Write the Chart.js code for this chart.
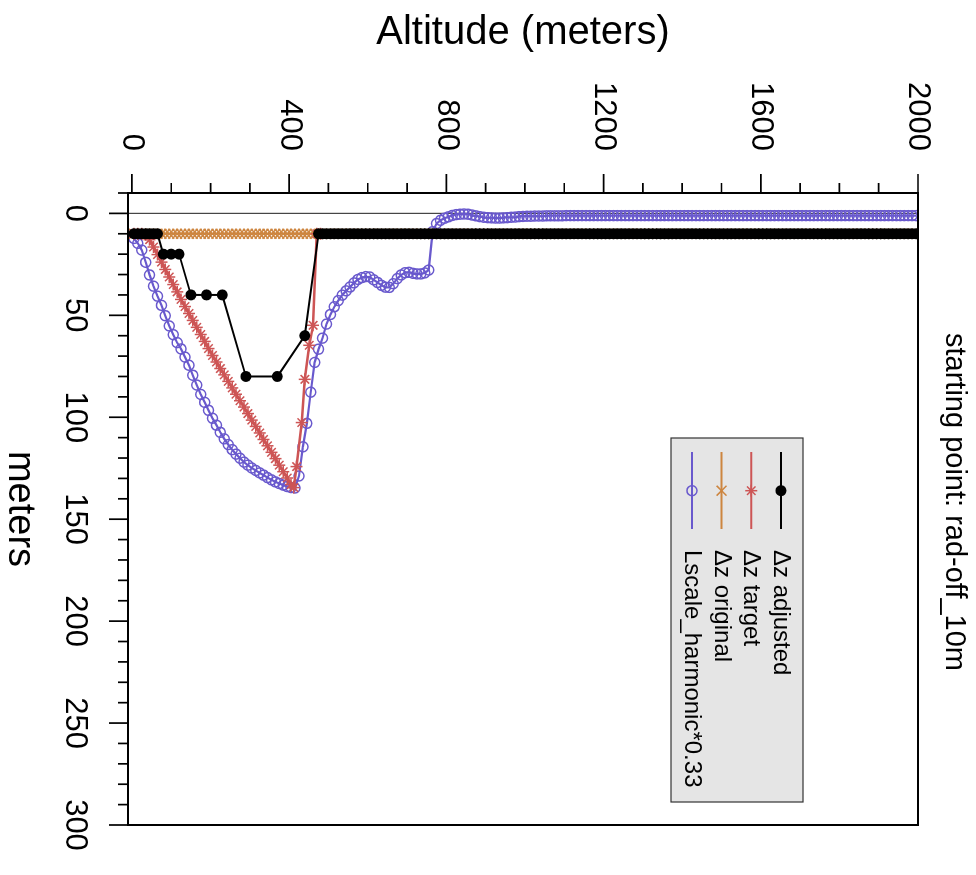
<!DOCTYPE html>
<html>
<head>
<meta charset="utf-8">
<title>rad-off_10m</title>
<script src="https://cdn.jsdelivr.net/npm/chart.js"></script>
<style>
  html, body { margin: 0; padding: 0; background: #fff; overflow: hidden; }
  body { width: 976px; height: 875px; position: relative; }
  /* the plot is a vertical profile turned a quarter turn clockwise */
  #wrap { position: absolute; left: 0; top: 0; width: 875px; height: 976px;
          transform-origin: 0 0; transform: translate(976px, 0) rotate(90deg); }
</style>
</head>
<body>
<div id="wrap"><canvas id="chart" width="875" height="976"></canvas></div>
<script>
const plotTitle = "starting point: rad-off_10m";
const xTitle = "meters";
const yTitle = "Altitude (meters)";
const meterTicks = [0, 50, 100, 150, 200, 250, 300];
const altitudeTicks = [0, 400, 800, 1200, 1600, 2000];
const meterMinor = 10;
const altitudeMinor = 100;

// model levels (layer centres, m)
const levels = [
  5, 15, 25, 35, 45, 55, 65, 75, 85, 95, 105, 115, 125, 135, 145, 155, 165, 175, 185, 195,
  205, 215, 225, 235, 245, 255, 265, 275, 285, 295, 305, 315, 325, 335, 345, 355, 365, 375, 385, 395,
  405, 415, 425, 435, 445, 455, 465, 475, 485, 495, 505, 515, 525, 535, 545, 555, 565, 575, 585, 595,
  605, 615, 625, 635, 645, 655, 665, 675, 685, 695, 705, 715, 725, 735, 745, 755, 765, 775, 785, 795,
  805, 815, 825, 835, 845, 855, 865, 875, 885, 895, 905, 915, 925, 935, 945, 955, 965, 975, 985, 995,
  1005, 1015, 1025, 1035, 1045, 1055, 1065, 1075, 1085, 1095, 1105, 1115, 1125, 1135, 1145, 1155, 1165, 1175, 1185, 1195,
  1205, 1215, 1225, 1235, 1245, 1255, 1265, 1275, 1285, 1295, 1305, 1315, 1325, 1335, 1345, 1355, 1365, 1375, 1385, 1395,
  1405, 1415, 1425, 1435, 1445, 1455, 1465, 1475, 1485, 1495, 1505, 1515, 1525, 1535, 1545, 1555, 1565, 1575, 1585, 1595,
  1605, 1615, 1625, 1635, 1645, 1655, 1665, 1675, 1685, 1695, 1705, 1715, 1725, 1735, 1745, 1755, 1765, 1775, 1785, 1795,
  1805, 1815, 1825, 1835, 1845, 1855, 1865, 1875, 1885, 1895, 1905, 1915, 1925, 1935, 1945, 1955, 1965, 1975, 1985, 1995
];

const dzOriginal = [
  10, 10, 10, 10, 10, 10, 10, 10, 10, 10, 10, 10, 10, 10, 10, 10, 10, 10, 10, 10,
  10, 10, 10, 10, 10, 10, 10, 10, 10, 10, 10, 10, 10, 10, 10, 10, 10, 10, 10, 10,
  10, 10, 10, 10, 10, 10, 10, 10, 10, 10, 10, 10, 10, 10, 10, 10, 10, 10, 10, 10,
  10, 10, 10, 10, 10, 10, 10, 10, 10, 10, 10, 10, 10, 10, 10, 10, 10, 10, 10, 10,
  10, 10, 10, 10, 10, 10, 10, 10, 10, 10, 10, 10, 10, 10, 10, 10, 10, 10, 10, 10,
  10, 10, 10, 10, 10, 10, 10, 10, 10, 10, 10, 10, 10, 10, 10, 10, 10, 10, 10, 10,
  10, 10, 10, 10, 10, 10, 10, 10, 10, 10, 10, 10, 10, 10, 10, 10, 10, 10, 10, 10,
  10, 10, 10, 10, 10, 10, 10, 10, 10, 10, 10, 10, 10, 10, 10, 10, 10, 10, 10, 10,
  10, 10, 10, 10, 10, 10, 10, 10, 10, 10, 10, 10, 10, 10, 10, 10, 10, 10, 10, 10,
  10, 10, 10, 10, 10, 10, 10, 10, 10, 10, 10, 10, 10, 10, 10, 10, 10, 10, 10, 10
];

const lscaleHarmonic = [
  12.3, 14.7, 18.0, 24.0, 30.2, 35.7, 40.6, 45.1, 50.2, 55.2, 59.5, 63.4, 66.5, 70.5, 74.5, 79.4, 84.2, 88.8, 92.7, 96.6,
  100.5, 103.9, 107.4, 110.6, 113.4, 115.9, 118.1, 120.1, 122.0, 123.5, 124.9, 126.1, 127.3, 128.4, 129.6, 130.7, 131.7, 132.5, 133.3, 134.0,
  134.5, 134.7, 128.8, 114.5, 103.0, 87.7, 73.1, 66.6, 61.2, 54.3, 49.6, 45.8, 42.8, 40.1, 38.0, 36.1, 34.1, 32.4, 31.5, 31.0,
  31.2, 32.6, 33.9, 35.3, 36.2, 36.3, 34.5, 32.0, 30.2, 29.1, 28.9, 29.4, 29.7, 29.7, 29.2, 27.8, 9.0, 5.0, 3.4, 2.4,
  1.7, 1.0, 0.6, 0.4, 0.3, 0.4, 0.8, 1.2, 1.6, 1.9, 2.1, 2.2, 2.3, 2.3, 2.2, 2.1, 1.9, 1.8, 1.6, 1.5,
  1.4, 1.4, 1.3, 1.3, 1.3, 1.2, 1.2, 1.2, 1.2, 1.2, 1.1, 1.1, 1.1, 1.1, 1.1, 1.1, 1.1, 1.1, 1.1, 1.1,
  1.1, 1.1, 1.1, 1.1, 1.1, 1.1, 1.1, 1.1, 1.1, 1.1, 1.1, 1.1, 1.1, 1.1, 1.1, 1.1, 1.1, 1.1, 1.1, 1.1,
  1.1, 1.1, 1.1, 1.1, 1.1, 1.1, 1.1, 1.1, 1.1, 1.1, 1.1, 1.1, 1.1, 1.1, 1.1, 1.1, 1.1, 1.1, 1.1, 1.1,
  1.1, 1.1, 1.1, 1.1, 1.1, 1.1, 1.1, 1.1, 1.1, 1.1, 1.1, 1.1, 1.1, 1.1, 1.1, 1.1, 1.1, 1.1, 1.1, 1.1,
  1.1, 1.1, 1.1, 1.1, 1.1, 1.1, 1.1, 1.1, 1.1, 1.1, 1.1, 1.1, 1.1, 1.1, 1.1, 1.1, 1.1, 1.1, 1.1, 1.1
];

const targetAlt = [
  5, 15, 25, 35, 45, 55, 65, 75, 85, 95, 105, 115, 125, 135, 145, 155, 165, 175, 185, 195,
  205, 215, 225, 235, 245, 255, 265, 275, 285, 295, 305, 315, 325, 335, 345, 355, 365, 375, 385, 395,
  405, 412, 419, 432, 440, 451, 461, 470, 480
];
const dzTarget = [
  10, 10, 10, 10.5, 12.9, 16.5, 20.2, 23.9, 27.5, 31.2, 34.9, 38.5, 42.2, 45.7, 49.1, 52.5, 55.9, 59.4, 62.8, 66.3,
  69.7, 72.9, 76.1, 79.2, 82.4, 85.6, 88.7, 91.9, 95.0, 98.2, 101.4, 104.5, 107.7, 110.9, 114.0, 117.2, 120.3, 123.5, 126.7, 129.8,
  133.0, 134.5, 124.2, 102.6, 81.4, 64.7, 54.9, 10, 10
];

// adjusted layers: centres of the merged layers, then the 10 m levels from 475 m up
const adjustedAlt = [5, 15, 25, 35, 45, 55, 65, 80, 100, 120, 150, 190, 230, 290, 370, 440].concat(levels.slice(47));
const dzAdjusted = [
  10, 10, 10, 10, 10, 10, 10, 20, 20, 20, 40, 40, 40, 80, 80, 60,
  10, 10, 10, 10, 10, 10, 10, 10, 10, 10, 10, 10, 10, 10, 10, 10, 10, 10, 10, 10,
  10, 10, 10, 10, 10, 10, 10, 10, 10, 10, 10, 10, 10, 10, 10, 10, 10, 10, 10, 10,
  10, 10, 10, 10, 10, 10, 10, 10, 10, 10, 10, 10, 10, 10, 10, 10, 10, 10, 10, 10,
  10, 10, 10, 10, 10, 10, 10, 10, 10, 10, 10, 10, 10, 10, 10, 10, 10, 10, 10, 10,
  10, 10, 10, 10, 10, 10, 10, 10, 10, 10, 10, 10, 10, 10, 10, 10, 10, 10, 10, 10,
  10, 10, 10, 10, 10, 10, 10, 10, 10, 10, 10, 10, 10, 10, 10, 10, 10, 10, 10, 10,
  10, 10, 10, 10, 10, 10, 10, 10, 10, 10, 10, 10, 10, 10, 10, 10, 10, 10, 10, 10,
  10, 10, 10, 10, 10, 10, 10, 10, 10, 10, 10, 10, 10
];

const FONT = '"Liberation Sans", Arial, Helvetica, sans-serif';
Chart.defaults.font.family = FONT;
Chart.defaults.color = "#000";

function profile(values, alts) {
  return values.map((v, i) => ({ x: v, y: alts[i] }));
}

function marker(ctx, ds, x, y) {
  ctx.save();
  ctx.strokeStyle = ds.borderColor;
  ctx.fillStyle = ds.pointBackgroundColor || ds.backgroundColor;
  ctx.lineWidth = ds.pointBorderWidth;
  const opts = { pointStyle: ds.pointStyle, radius: ds.pointRadius, borderWidth: ds.pointBorderWidth, rotation: 0 };
  if (Chart.helpers && Chart.helpers.drawPoint) {
    Chart.helpers.drawPoint(ctx, opts, x, y);
  } else {
    ctx.beginPath();
    ctx.arc(x, y, ds.pointRadius, 0, Math.PI * 2);
    ctx.fill();
    ctx.stroke();
  }
  ctx.restore();
}

// keep the plot box where the layout padding puts it
function noLabelPadding(s) {
  s.paddingLeft = 0;
  s.paddingRight = 0;
  s.paddingTop = 0;
  s.paddingBottom = 0;
}

const decor = {
  id: "decor",
  beforeDatasetsDraw(chart) {
    const { ctx, chartArea: area, scales } = chart;
    const px = scales.x.getPixelForValue(0);
    ctx.save();
    ctx.strokeStyle = "#444";
    ctx.lineWidth = 1.2;
    ctx.beginPath();
    ctx.moveTo(px, area.top);
    ctx.lineTo(px, area.bottom);
    ctx.stroke();
    ctx.restore();
  },
  afterDatasetsDraw(chart) {
    const { ctx, chartArea: area, scales } = chart;
    ctx.save();
    ctx.strokeStyle = "#000";
    ctx.lineWidth = 2;
    ctx.strokeRect(area.left, area.top, area.right - area.left, area.bottom - area.top);
    ctx.lineWidth = 1.7;
    ctx.beginPath();
    for (let v = scales.x.min; v <= scales.x.max; v += meterMinor) {
      const len = meterTicks.includes(v) ? 19 : 10;
      const px = scales.x.getPixelForValue(v);
      ctx.moveTo(px, area.bottom);
      ctx.lineTo(px, area.bottom + len);
    }
    for (let v = 0; v <= scales.y.max; v += altitudeMinor) {
      const len = altitudeTicks.includes(v) ? 19 : 10;
      const py = scales.y.getPixelForValue(v);
      ctx.moveTo(area.left, py);
      ctx.lineTo(area.left - len, py);
    }
    ctx.stroke();
    ctx.restore();
  },
  afterDraw(chart) {
    const ctx = chart.ctx;
    ctx.save();
    // legend box
    const box = { left: 438, top: 173, right: 802, bottom: 305 };
    ctx.fillStyle = "#e5e5e5";
    ctx.fillRect(box.left, box.top, box.right - box.left, box.bottom - box.top);
    ctx.strokeStyle = "#333";
    ctx.lineWidth = 1.2;
    ctx.strokeRect(box.left, box.top, box.right - box.left, box.bottom - box.top);
    chart.data.datasets.forEach((ds, i) => {
      const y = 195 + i * 29.7;
      ctx.strokeStyle = ds.borderColor;
      ctx.lineWidth = 2;
      ctx.beginPath();
      ctx.moveTo(452, y);
      ctx.lineTo(529, y);
      ctx.stroke();
      marker(ctx, ds, 490.7, y);
      ctx.fillStyle = "#000";
      ctx.font = "24px " + FONT;
      ctx.textAlign = "left";
      ctx.textBaseline = "alphabetic";
      ctx.fillText(ds.label, 550, y + 7);
    });
    // plot title
    ctx.fillStyle = "#000";
    ctx.font = "29px " + FONT;
    ctx.textAlign = "center";
    ctx.textBaseline = "alphabetic";
    ctx.fillText(plotTitle, 502, 30);
    ctx.restore();
  }
};

const ctx = document.getElementById("chart").getContext("2d");
new Chart(ctx, {
  type: "scatter",
  data: {
    datasets: [
      {
        label: "\u0394z adjusted",
        data: profile(dzAdjusted, adjustedAlt),
        showLine: true,
        borderColor: "#000000",
        backgroundColor: "#000000",
        borderWidth: 2,
        pointStyle: "circle",
        pointRadius: 5.5,
        pointBorderWidth: 0,
      },
      {
        label: "\u0394z target",
        data: profile(dzTarget, targetAlt),
        showLine: true,
        borderColor: "#CD5555",
        backgroundColor: "#CD5555",
        borderWidth: 2.5,
        pointStyle: "star",
        pointRadius: 6,
        pointBorderWidth: 1.5,
      },
      {
        label: "\u0394z original",
        data: profile(dzOriginal, levels),
        showLine: true,
        borderColor: "#CD853F",
        backgroundColor: "#CD853F",
        borderWidth: 2,
        pointStyle: "crossRot",
        pointRadius: 7,
        pointBorderWidth: 1.5,
      },
      {
        label: "Lscale_harmonic*0.33",
        data: profile(lscaleHarmonic, levels),
        showLine: true,
        borderColor: "#6959CD",
        backgroundColor: "rgba(0,0,0,0)",
        pointBackgroundColor: "rgba(0,0,0,0)",
        borderWidth: 2.2,
        pointStyle: "circle",
        pointRadius: 5,
        pointBorderWidth: 1.5,
      },
    ],
  },
  options: {
    responsive: false,
    animation: false,
    layout: { padding: { top: 58, right: 50, left: 0, bottom: 0 } },
    elements: { line: { tension: 0 } },
    plugins: {
      legend: { display: false },
      tooltip: { enabled: false },
    },
    scales: {
      x: {
        type: "linear",
        position: "bottom",
        min: -10,
        max: 300,
        afterBuildTicks: (s) => { s.ticks = meterTicks.map((v) => ({ value: v })); },
        afterFit: (s) => { s.height = 128; noLabelPadding(s); },
        grid: { display: false, drawTicks: false },
        border: { display: false },
        ticks: {
          font: { size: 31 },
          color: "#000",
          padding: 35,
          maxRotation: 0,
          autoSkip: false,
          callback: (v) => String(v),
        },
        title: { display: true, text: xTitle, color: "#000", font: { size: 38, lineHeight: 1 }, padding: 0 },
      },
      y: {
        type: "linear",
        position: "left",
        min: -10,
        max: 2000,
        afterBuildTicks: (s) => { s.ticks = altitudeTicks.map((v) => ({ value: v })); },
        afterFit: (s) => { s.width = 193; noLabelPadding(s); },
        grid: { display: false, drawTicks: false },
        border: { display: false },
        ticks: {
          font: { size: 31 },
          color: "#000",
          padding: 42,
          autoSkip: false,
          callback: (v) => String(v),
        },
        title: { display: true, text: yTitle, color: "#000", font: { size: 40, lineHeight: 1 }, padding: { top: 13, bottom: 0 } },
      },
    },
  },
  plugins: [decor],
});
</script>
</body>
</html>
